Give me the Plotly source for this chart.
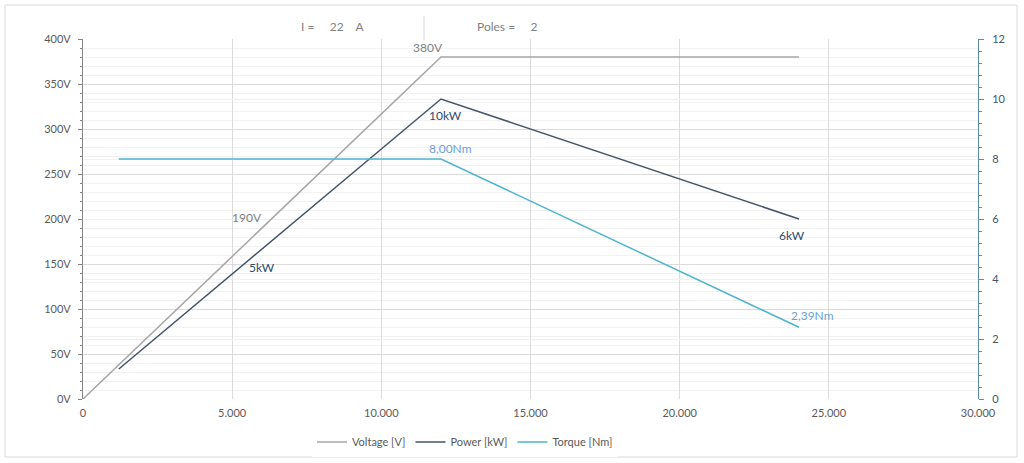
import plotly.graph_objects as go

# Data
speed_v = [0, 12000, 24000]
voltage = [0, 380, 380]
speed_pt = [1200, 12000, 24000]
power = [1, 10, 6]
torque = [8, 8, 2.39]

x_ticks = [0, 5000, 10000, 15000, 20000, 25000, 30000]
x_ticklabels = ["0", "5.000", "10.000", "15.000", "20.000", "25.000", "30.000"]
y_ticks = [0, 50, 100, 150, 200, 250, 300, 350, 400]
y_ticklabels = ["0V", "50V", "100V", "150V", "200V", "250V", "300V", "350V", "400V"]
y2_ticks = [0, 2, 4, 6, 8, 10, 12]

v_lab_x = [6000, 12000]
v_lab_y = [190, 380]
v_lab_t = ["190V", "380V"]
p_lab_x = [6000, 12000, 24000]
p_lab_y = [5, 10, 6]
p_lab_t = ["5kW", "10kW", "6kW"]
t_lab_x = [12000, 24000]
t_lab_y = [8, 2.39]
t_lab_t = ["8,00Nm", "2,39Nm"]

FONT = "Lato"
C_V = "#a6a6a6"
C_P = "#44546a"
C_T = "#4db3d1"
L_V = "#7f7f7f"
L_P = "#2f4a70"
L_T = "#6b9fd3"

fig = go.Figure()
fig.add_trace(go.Scatter(x=speed_v, y=voltage, mode="lines", name="Voltage [V]",
                         line=dict(color=C_V, width=1.5)))
fig.add_trace(go.Scatter(x=speed_pt, y=power, mode="lines", name="Power [kW]",
                         line=dict(color=C_P, width=1.5), yaxis="y2"))
fig.add_trace(go.Scatter(x=speed_pt, y=torque, mode="lines", name="Torque [Nm]",
                         line=dict(color=C_T, width=1.5), yaxis="y2"))

ann = []
v_off = [(-15, 11), (-13, 10)]
for (x, y, t), (dx, dy) in zip(zip(v_lab_x, v_lab_y, v_lab_t), v_off):
    ann.append(dict(x=x, y=y, xref="x", yref="y", text=t, showarrow=False,
                    xshift=dx, yshift=dy, font=dict(family=FONT, size=12, color=L_V)))
p_off = [(0, -18), (4, -16), (-7, -16)]
for (x, y, t), (dx, dy) in zip(zip(p_lab_x, p_lab_y, p_lab_t), p_off):
    ann.append(dict(x=x, y=y, xref="x", yref="y2", text=t, showarrow=False,
                    xshift=dx, yshift=dy, font=dict(family=FONT, size=12, color=L_P)))
t_off = [(9, 11), (13, 12)]
for (x, y, t), (dx, dy) in zip(zip(t_lab_x, t_lab_y, t_lab_t), t_off):
    ann.append(dict(x=x, y=y, xref="x", yref="y2", text=t, showarrow=False,
                    xshift=dx, yshift=dy, font=dict(family=FONT, size=12, color=L_T)))

# header texts
ann.append(dict(x=(333 - 83) / 895, y=(399 - 27) / 360, xref="paper", yref="paper",
                xanchor="center", yanchor="middle",
                text="I =     22    A", showarrow=False,
                font=dict(family=FONT, size=12, color="#7f7f7f")))
ann.append(dict(x=(507 - 83) / 895, y=(399 - 27) / 360, xref="paper", yref="paper",
                xanchor="center", yanchor="middle",
                text="Poles =     2", showarrow=False,
                font=dict(family=FONT, size=12, color="#7f7f7f")))

shapes = [
    dict(type="line", xref="paper", yref="paper",
         x0=(424 - 83) / 895, x1=(424 - 83) / 895,
         y0=(399 - 40) / 360, y1=(399 - 16) / 360,
         line=dict(color="#d9d9d9", width=1)),
    dict(type="rect", xref="paper", yref="paper",
         x0=(5 - 83) / 895, x1=(1017 - 83) / 895,
         y0=(399 - 457) / 360, y1=(399 - 5) / 360,
         line=dict(color="#d9d9d9", width=1)),
]

fig.update_layout(
    width=1024, height=463,
    margin=dict(l=83, r=46, t=39, b=64, autoexpand=False),
    paper_bgcolor="white", plot_bgcolor="white",
    font=dict(family=FONT, size=11, color="#595959"),
    showlegend=True,
    legend=dict(orientation="h", x=(312 - 83) / 895, y=(399 - 442) / 360,
                xanchor="left", yanchor="middle",
                font=dict(family=FONT, size=11), itemwidth=30,
                tracegroupgap=0),
    xaxis=dict(range=[0, 30000], tickvals=x_ticks, ticktext=x_ticklabels,
               showgrid=True, gridcolor="#dcdcdc", gridwidth=1,
               zeroline=False, showline=False, ticks="", ticklabelstandoff=6,
               tickfont=dict(family=FONT, size=11, color="#595959")),
    yaxis=dict(range=[0, 400], tickvals=y_ticks, ticktext=y_ticklabels,
               showgrid=True, gridcolor="#dcdcdc", gridwidth=1,
               zeroline=False, showline=True, linecolor="#868686", linewidth=1,
               ticks="outside", ticklen=4, tickcolor="#868686", ticklabelstandoff=5,
               minor=dict(dtick=10, showgrid=True, gridcolor="#f2f2f2",
                          ticks="outside", ticklen=2, tickcolor="#868686"),
               tickfont=dict(family=FONT, size=11, color="#595959")),
    yaxis2=dict(range=[0, 12], tickvals=y2_ticks, overlaying="y", side="right",
                showgrid=True, gridcolor="#f0f0f0", gridwidth=1,
                zeroline=False, showline=True, linecolor="#5b8aa6", linewidth=1,
                ticks="outside", ticklen=5, tickcolor="#5b8aa6", ticklabelstandoff=6,
                minor=dict(dtick=0.4, showgrid=False,
                           ticks="outside", ticklen=3, tickcolor="#5b8aa6"),
                tickfont=dict(family=FONT, size=11, color="#44546a")),
    annotations=ann, shapes=shapes,
)

fig.write_html("out.html")
